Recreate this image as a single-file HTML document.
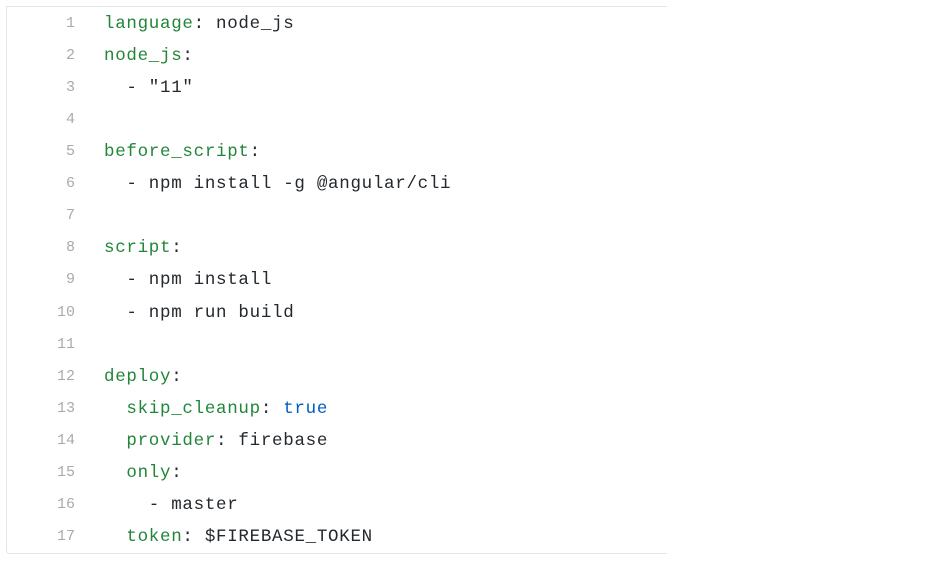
<!DOCTYPE html>
<html><head><style>
body{margin:0;background:#fff;width:934px;height:566px;overflow:hidden;}
.box{position:absolute;left:6px;top:6px;width:660px;height:546px;border:1px solid #e1e4e8;border-right:none;border-radius:0 0 0 4px;}
.l{position:absolute;left:0;height:32px;line-height:32px;font-family:"Liberation Mono",monospace;font-size:17.5px;letter-spacing:0.7px;white-space:pre;}
.n{position:absolute;width:68px;text-align:right;color:#aaa;font-family:"Liberation Mono",monospace;font-size:15px;letter-spacing:0;}
.c{position:absolute;left:104px;color:#24292e;}
.k{color:#22863a}.b{color:#005cc5}
</style></head><body>
<div class="box"></div>
<div id="code"></div>
<script>
var L=[
'<span class="k">language</span>: node_js',
'<span class="k">node_js</span>:',
'  - "11"',
'',
'<span class="k">before_script</span>:',
'  - npm install -g @angular/cli',
'',
'<span class="k">script</span>:',
'  - npm install',
'  - npm run build',
'',
'<span class="k">deploy</span>:',
'  <span class="k">skip_cleanup</span>: <span class="b">true</span>',
'  <span class="k">provider</span>: firebase',
'  <span class="k">only</span>:',
'    - master',
'  <span class="k">token</span>: $FIREBASE_TOKEN'];
var h='';
for(var i=0;i<L.length;i++){var y=8+i*32.06;
h+='<div class="l" style="top:'+y+'px"><span class="n" style="left:7px">'+(i+1)+'</span><span class="c">'+L[i]+'</span></div>';}
document.getElementById('code').innerHTML=h;
</script>
</body></html>
